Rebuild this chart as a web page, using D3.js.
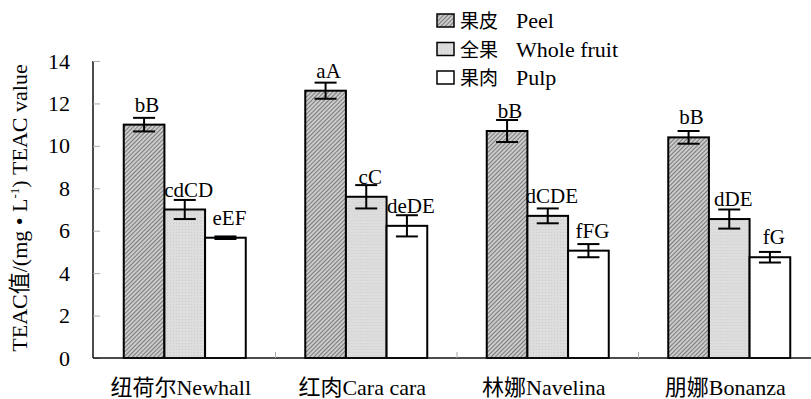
<!DOCTYPE html>
<html>
<head>
<meta charset="utf-8">
<script src="https://cdn.jsdelivr.net/npm/d3@7"></script>
<style>
  html, body { margin: 0; padding: 0; background: #fff; }
  svg { display: block; }
  text { font-family: "Liberation Serif", "Times New Roman", "Noto Sans CJK SC", serif; fill: #000; }
</style>
</head>
<body>
<svg id="chart" width="811" height="399"></svg>
<script>
// Cultivars (x categories)
const categories = ["纽荷尔Newhall", "红肉Cara cara", "林娜Navelina", "朋娜Bonanza"];
// Fruit parts (series)
const seriesKeys = ["peel", "whole", "pulp"];
const seriesZh = ["果皮", "全果", "果肉"];
const seriesEn = ["Peel", "Whole fruit", "Pulp"];
// TEAC values, mg/L
const peelValues  = [11.0, 12.6, 10.7, 10.4];
const wholeValues = [7.0, 7.6, 6.7, 6.55];
const pulpValues  = [5.67, 6.23, 5.06, 4.75];
// Standard errors
const peelErr  = [0.32, 0.38, 0.52, 0.30];
const wholeErr = [0.45, 0.55, 0.35, 0.45];
const pulpErr  = [0.06, 0.50, 0.31, 0.25];
// Significance letters
const peelLabels  = ["bB", "aA", "bB", "bB"];
const wholeLabels = ["cdCD", "cC", "dCDE", "dDE"];
const pulpLabels  = ["eEF", "deDE", "fFG", "fG"];
// Y-axis ticks
const yTicks = [0, 2, 4, 6, 8, 10, 12, 14];

const values = { peel: peelValues, whole: wholeValues, pulp: pulpValues };
const errors = { peel: peelErr, whole: wholeErr, pulp: pulpErr };
const labels = { peel: peelLabels, whole: wholeLabels, pulp: pulpLabels };

const svg = d3.select("#chart");

// Patterns: fine diagonal hatch for peel, light dotted grey for whole fruit
const defs = svg.append("defs");
const hatch = defs.append("pattern")
  .attr("id", "hatch").attr("patternUnits", "userSpaceOnUse")
  .attr("width", 3).attr("height", 3)
  .attr("patternTransform", "rotate(45)");
hatch.append("rect").attr("width", 3).attr("height", 3).attr("fill", "#cbcbcb");
hatch.append("line").attr("x1", 0.5).attr("y1", 0).attr("x2", 0.5).attr("y2", 3)
  .attr("stroke", "#7a7a7a").attr("stroke-width", 1);

const dots = defs.append("pattern")
  .attr("id", "dots").attr("patternUnits", "userSpaceOnUse")
  .attr("width", 3).attr("height", 3);
dots.append("rect").attr("width", 3).attr("height", 3).attr("fill", "#dddddd");
dots.append("rect").attr("x", 1).attr("y", 1).attr("width", 1).attr("height", 1).attr("fill", "#cccccc");

const fills = { peel: "url(#hatch)", whole: "url(#dots)", pulp: "#fff" };

const x0 = d3.scaleBand().domain(categories).range([94, 820]).padding(0);
const bw = x0.bandwidth();
const x1 = d3.scaleBand().domain(seriesKeys).range([bw / 2 - 61, bw / 2 + 61]).padding(0);
const y = d3.scaleLinear().domain([0, 14]).range([358, 61]);

// Y axis
const yAxis = svg.append("g").attr("transform", "translate(93,0)")
  .call(d3.axisLeft(y).tickValues(yTicks).tickSize(-7).tickPadding(23).tickFormat(d3.format("d")));
yAxis.select(".domain").attr("stroke", "#111").attr("stroke-width", 1.5).attr("d", `M0,${y(14)}V${y(0)}`);
yAxis.selectAll(".tick line").attr("stroke", "#aaa").attr("stroke-width", 1);
yAxis.selectAll(".tick text")
  .style("font-family", "'Liberation Serif', serif").style("font-size", "22px").attr("fill", "#000");

// Bars
const groups = svg.append("g").selectAll("g")
  .data(categories).join("g")
  .attr("transform", d => `translate(${x0(d)},0)`);

seriesKeys.forEach(k => {
  groups.append("rect")
    .attr("x", x1(k))
    .attr("y", (d, i) => y(values[k][i]))
    .attr("width", x1.bandwidth())
    .attr("height", (d, i) => y(0) - y(values[k][i]))
    .attr("fill", fills[k])
    .attr("stroke", "#000").attr("stroke-width", 2);
});

// Error bars
seriesKeys.forEach(k => {
  const cx = x1(k) + x1.bandwidth() / 2;
  const eb = groups.append("g").attr("stroke", "#000").attr("stroke-width", 2);
  eb.append("line").attr("x1", cx).attr("x2", cx)
    .attr("y1", (d, i) => y(values[k][i] + errors[k][i]))
    .attr("y2", (d, i) => y(values[k][i] - errors[k][i]));
  eb.append("line").attr("x1", cx - 11).attr("x2", cx + 11)
    .attr("y1", (d, i) => y(values[k][i] + errors[k][i]))
    .attr("y2", (d, i) => y(values[k][i] + errors[k][i]));
  eb.append("line").attr("x1", cx - 11).attr("x2", cx + 11)
    .attr("y1", (d, i) => y(values[k][i] - errors[k][i]))
    .attr("y2", (d, i) => y(values[k][i] - errors[k][i]));
});

// Significance letters
seriesKeys.forEach(k => {
  groups.append("text")
    .attr("x", x1(k) + x1.bandwidth() / 2 + (k === "peel" ? 3 : 4))
    .attr("y", (d, i) => y(values[k][i]) - 13)
    .attr("text-anchor", "middle")
    .style("font-size", "21px")
    .text((d, i) => labels[k][i]);
});

// X axis
const xAxisG = svg.append("g");
xAxisG.append("line").attr("x1", 93).attr("x2", 811).attr("y1", y(0)).attr("y2", y(0))
  .attr("stroke", "#111").attr("stroke-width", 1.5);
xAxisG.selectAll("line.sep").data(categories.slice(1)).join("line")
  .attr("class", "sep")
  .attr("x1", d => x0(d)).attr("x2", d => x0(d))
  .attr("y1", y(0)).attr("y2", y(0) - 6)
  .attr("stroke", "#aaa").attr("stroke-width", 1);
xAxisG.selectAll("text").data(categories).join("text")
  .attr("x", d => x0(d) + bw / 2 - 4)
  .attr("y", 395)
  .attr("text-anchor", "middle")
  .style("font-size", "22px")
  .text(d => d);

// Y-axis title
const yt = svg.append("text")
  .attr("transform", "translate(27,208) rotate(-90)")
  .attr("text-anchor", "middle")
  .style("font-size", "22px");
yt.append("tspan").text("TEAC值/(mg • L");
yt.append("tspan").attr("dy", -8).style("font-size", "13px").text("-1");
yt.append("tspan").attr("dy", 8).text(") TEAC value");

// Legend
const legend = svg.append("g").attr("transform", "translate(437,0)");
seriesKeys.forEach((k, i) => {
  const row = legend.append("g").attr("transform", `translate(0,${21 + i * 28.5})`);
  row.append("rect").attr("x", 0).attr("y", -7).attr("width", 17).attr("height", 13)
    .attr("fill", fills[k]).attr("stroke", "#000").attr("stroke-width", 1.5);
  row.append("text").attr("x", 23).attr("y", 7).style("font-size", "19px").text(seriesZh[i]);
  row.append("text").attr("x", 79).attr("y", 7).style("font-size", "22px").text(seriesEn[i]);
});
</script>
</body>
</html>
